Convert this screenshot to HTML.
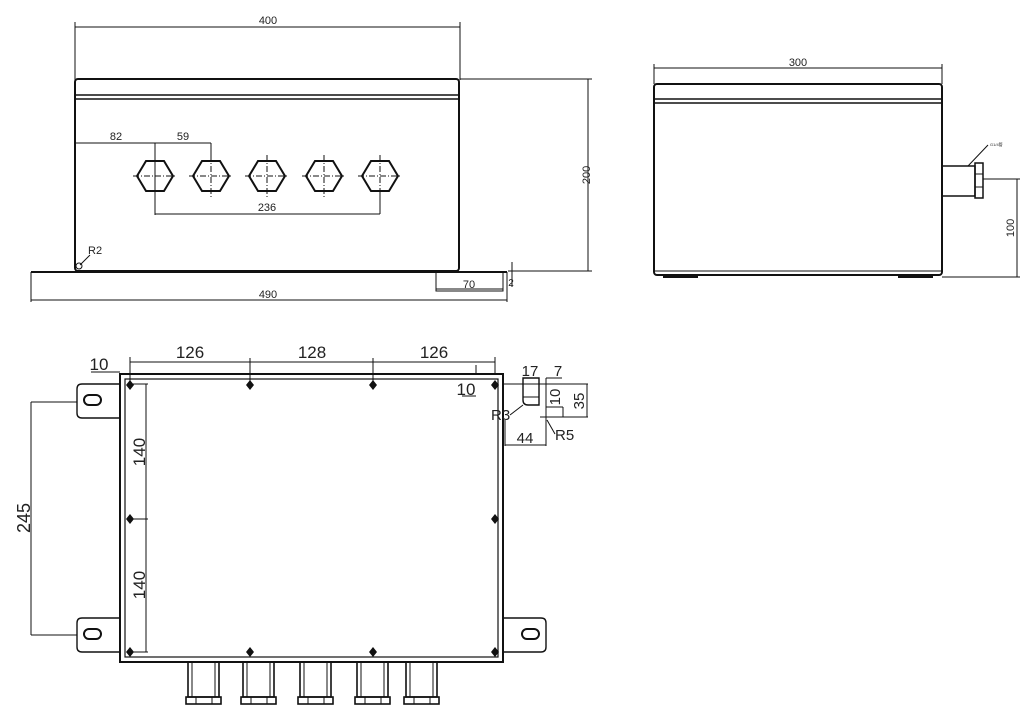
<!DOCTYPE html>
<html><head><meta charset="utf-8"><style>
html,body{margin:0;padding:0;background:#fff;}
svg{display:block;}
text{font-family:"Liberation Sans",sans-serif;fill:#222;}
</style></head><body>
<svg width="1034" height="719" viewBox="0 0 1034 719" xmlns="http://www.w3.org/2000/svg">
<defs>
<g id="hex">
<polygon points="-18,0 -9,-15 9,-15 18,0 9,15 -9,15" fill="none" stroke="#111" stroke-width="2"/>
<line x1="-22" y1="0" x2="22" y2="0" stroke="#111" stroke-width="1" stroke-dasharray="6,2,1,2"/>
<line x1="0" y1="-21" x2="0" y2="21" stroke="#111" stroke-width="1" stroke-dasharray="6,2,1,2"/>
</g>
<g id="gland">
<rect x="0" y="0" width="31" height="35" fill="none" stroke="#111" stroke-width="1.6"/>
<line x1="4" y1="0" x2="4" y2="35" stroke="#111" stroke-width="1"/>
<line x1="27" y1="0" x2="27" y2="35" stroke="#111" stroke-width="1"/>
<rect x="-2" y="35" width="35" height="7" fill="none" stroke="#111" stroke-width="1.6"/>
<line x1="8" y1="35" x2="8" y2="42" stroke="#111" stroke-width="1"/>
<line x1="24" y1="35" x2="24" y2="42" stroke="#111" stroke-width="1"/>
</g>
<g id="tab">
<path d="M43,0 H5 Q0,0 0,5 V29 Q0,34 5,34 H43" fill="none" stroke="#111" stroke-width="1.4"/>
<rect x="7" y="11" width="17" height="10" rx="5" fill="none" stroke="#111" stroke-width="2"/>
</g>
<g id="dot"><polygon points="0,-5 4,0 0,5 -4,0" fill="#111"/></g>
</defs>
<g stroke="#111" fill="none">
<!-- FRONT VIEW -->
<line x1="75" y1="27" x2="460" y2="27" stroke-width="1"/>
<line x1="75" y1="22" x2="75" y2="80" stroke-width="1"/>
<line x1="460" y1="22" x2="460" y2="80" stroke-width="1"/>
<rect x="75" y="79" width="384" height="192" rx="3" stroke-width="2"/>
<line x1="76" y1="95" x2="458" y2="95" stroke-width="1.5"/>
<line x1="76" y1="99" x2="458" y2="99" stroke-width="1.5"/>
<line x1="460" y1="79" x2="592" y2="79" stroke-width="1"/>
<line x1="588" y1="79" x2="588" y2="271" stroke-width="1"/>
<line x1="508" y1="271" x2="592" y2="271" stroke-width="1"/>
<line x1="31" y1="272" x2="507" y2="272" stroke-width="2"/>
<line x1="31" y1="272" x2="31" y2="302" stroke-width="1"/>
<line x1="507" y1="272" x2="507" y2="302" stroke-width="1"/>
<line x1="31" y1="300" x2="507" y2="300" stroke-width="1"/>
<rect x="436" y="272" width="67" height="19" stroke-width="1"/>
<line x1="436" y1="289" x2="503" y2="289" stroke-width="1"/>
<line x1="512" y1="262" x2="512" y2="287" stroke-width="1"/>
<!-- dims holes -->
<line x1="75" y1="143" x2="211" y2="143" stroke-width="1"/>
<line x1="155" y1="143" x2="155" y2="215" stroke-width="1"/>
<line x1="211" y1="143" x2="211" y2="160" stroke-width="1"/>
<line x1="155" y1="214" x2="380" y2="214" stroke-width="1"/>
<line x1="380" y1="190" x2="380" y2="214" stroke-width="1"/>
<line x1="80" y1="265" x2="90" y2="255" stroke-width="1"/>
<circle cx="79" cy="266" r="3" stroke-width="1"/>
<!-- SIDE VIEW -->
<line x1="654" y1="68" x2="942" y2="68" stroke-width="1"/>
<line x1="654" y1="64" x2="654" y2="84" stroke-width="1"/>
<line x1="942" y1="64" x2="942" y2="84" stroke-width="1"/>
<rect x="654" y="84" width="288" height="191" rx="3" stroke-width="2"/>
<line x1="655" y1="99" x2="941" y2="99" stroke-width="1.5"/>
<line x1="655" y1="103" x2="941" y2="103" stroke-width="1.5"/>
<line x1="655" y1="271" x2="941" y2="271" stroke-width="1"/>
<line x1="663" y1="277" x2="698" y2="277" stroke-width="2"/>
<line x1="898" y1="277" x2="933" y2="277" stroke-width="2"/>
<rect x="942" y="166" width="33" height="30" stroke-width="1.5"/>
<rect x="975" y="163" width="8" height="35" stroke-width="1.5"/>
<line x1="975" y1="174" x2="983" y2="174" stroke-width="1"/>
<line x1="975" y1="187" x2="983" y2="187" stroke-width="1"/>
<line x1="983" y1="179" x2="1020" y2="179" stroke-width="1"/>
<line x1="1017" y1="179" x2="1017" y2="277" stroke-width="1"/>
<line x1="942" y1="277" x2="1020" y2="277" stroke-width="1"/>
<line x1="968" y1="166" x2="988" y2="145" stroke-width="1"/>
<!-- PLAN VIEW -->
<rect x="120" y="374" width="383" height="288" stroke-width="2"/>
<rect x="125" y="379" width="373" height="278" stroke-width="1.2"/>
<line x1="130" y1="362" x2="495" y2="362" stroke-width="1"/>
<line x1="130" y1="357" x2="130" y2="385" stroke-width="1"/>
<line x1="250" y1="358" x2="250" y2="385" stroke-width="1"/>
<line x1="373" y1="358" x2="373" y2="385" stroke-width="1"/>
<line x1="495" y1="357" x2="495" y2="375" stroke-width="1"/>
<line x1="476" y1="365" x2="476" y2="375" stroke-width="1"/>
<line x1="91" y1="372" x2="120" y2="372" stroke-width="1"/>
<line x1="462" y1="396" x2="476" y2="396" stroke-width="1"/>
<line x1="146" y1="384" x2="146" y2="652" stroke-width="1"/>
<line x1="130" y1="384" x2="148" y2="384" stroke-width="1"/>
<line x1="130" y1="519" x2="148" y2="519" stroke-width="1"/>
<line x1="130" y1="652" x2="148" y2="652" stroke-width="1"/>
<use href="#tab" x="77" y="384"/>
<use href="#tab" x="77" y="618"/>
<g transform="translate(546,384) scale(-1,1)"><use href="#tab" x="0" y="234"/></g>
<line x1="31" y1="402" x2="77" y2="402" stroke-width="1"/>
<line x1="31" y1="402" x2="31" y2="635" stroke-width="1"/>
<line x1="31" y1="635" x2="77" y2="635" stroke-width="1"/>
<use href="#gland" x="188" y="662"/>
<use href="#gland" x="243" y="662"/>
<use href="#gland" x="300" y="662"/>
<use href="#gland" x="357" y="662"/>
<use href="#gland" x="406" y="662"/>
<!-- detail top right -->
<path d="M523,378 V400 Q523,405 528,405 H539 V378 Z" stroke-width="1.4"/>
<line x1="523" y1="397" x2="539" y2="397" stroke-width="1"/>
<line x1="523" y1="378" x2="539" y2="378" stroke-width="1"/>
<line x1="546" y1="378" x2="562" y2="378" stroke-width="1"/>
<line x1="503" y1="384" x2="588" y2="384" stroke-width="1"/>
<line x1="546" y1="378" x2="546" y2="446" stroke-width="1"/>
<line x1="587" y1="384" x2="587" y2="417" stroke-width="1"/>
<line x1="540" y1="417" x2="588" y2="417" stroke-width="1"/>
<line x1="563" y1="407" x2="563" y2="417" stroke-width="1"/>
<line x1="546" y1="407" x2="563" y2="407" stroke-width="1"/>
<line x1="510" y1="415" x2="523" y2="405" stroke-width="1"/>
<line x1="547" y1="420" x2="555" y2="434" stroke-width="1"/>
<line x1="505" y1="420" x2="505" y2="446" stroke-width="1"/>
<line x1="505" y1="445" x2="546" y2="445" stroke-width="1"/>
</g>
<g fill="#111">
<use href="#hex" x="155" y="176"/><use href="#hex" x="211" y="176"/><use href="#hex" x="267" y="176"/><use href="#hex" x="324" y="176"/><use href="#hex" x="380" y="176"/>
<use href="#dot" x="130" y="385"/><use href="#dot" x="250" y="385"/><use href="#dot" x="373" y="385"/><use href="#dot" x="495" y="385"/>
<use href="#dot" x="130" y="519"/><use href="#dot" x="495" y="519"/>
<use href="#dot" x="130" y="652"/><use href="#dot" x="250" y="652"/><use href="#dot" x="373" y="652"/><use href="#dot" x="495" y="652"/>
</g>
<g font-size="11">
<text x="268" y="24" text-anchor="middle">400</text>
<text x="116" y="140" text-anchor="middle">82</text>
<text x="183" y="140" text-anchor="middle">59</text>
<text x="267" y="211" text-anchor="middle">236</text>
<text x="88" y="254">R2</text>
<text x="268" y="298" text-anchor="middle">490</text>
<text x="469" y="288" text-anchor="middle">70</text>
<text x="511" y="286" text-anchor="middle" font-size="10">2</text>
<text transform="translate(590,175) rotate(-90)" text-anchor="middle">200</text>
<text x="798" y="66" text-anchor="middle">300</text>
<text transform="translate(1014,228) rotate(-90)" text-anchor="middle">100</text>
<text x="990" y="146" font-size="4">G1/4管</text>
</g>
<g font-size="17">
<text x="190" y="358" text-anchor="middle">126</text>
<text x="312" y="358" text-anchor="middle">128</text>
<text x="434" y="358" text-anchor="middle">126</text>
<text x="99" y="370" text-anchor="middle">10</text>
<text x="466" y="395" text-anchor="middle">10</text>
<text transform="translate(145,452) rotate(-90)" text-anchor="middle">140</text>
<text transform="translate(145,585) rotate(-90)" text-anchor="middle">140</text>
<text transform="translate(30,518) rotate(-90)" text-anchor="middle" font-size="18">245</text>
<text x="530" y="376" text-anchor="middle" font-size="15">17</text>
<text x="558" y="376" text-anchor="middle" font-size="15">7</text>
<text transform="translate(560,397) rotate(-90)" text-anchor="middle" font-size="15">10</text>
<text transform="translate(584,401) rotate(-90)" text-anchor="middle" font-size="15">35</text>
<text x="491" y="420" font-size="15">R3</text>
<text x="555" y="440" font-size="15">R5</text>
<text x="525" y="443" text-anchor="middle" font-size="15">44</text>
</g>
</svg>
</body></html>
